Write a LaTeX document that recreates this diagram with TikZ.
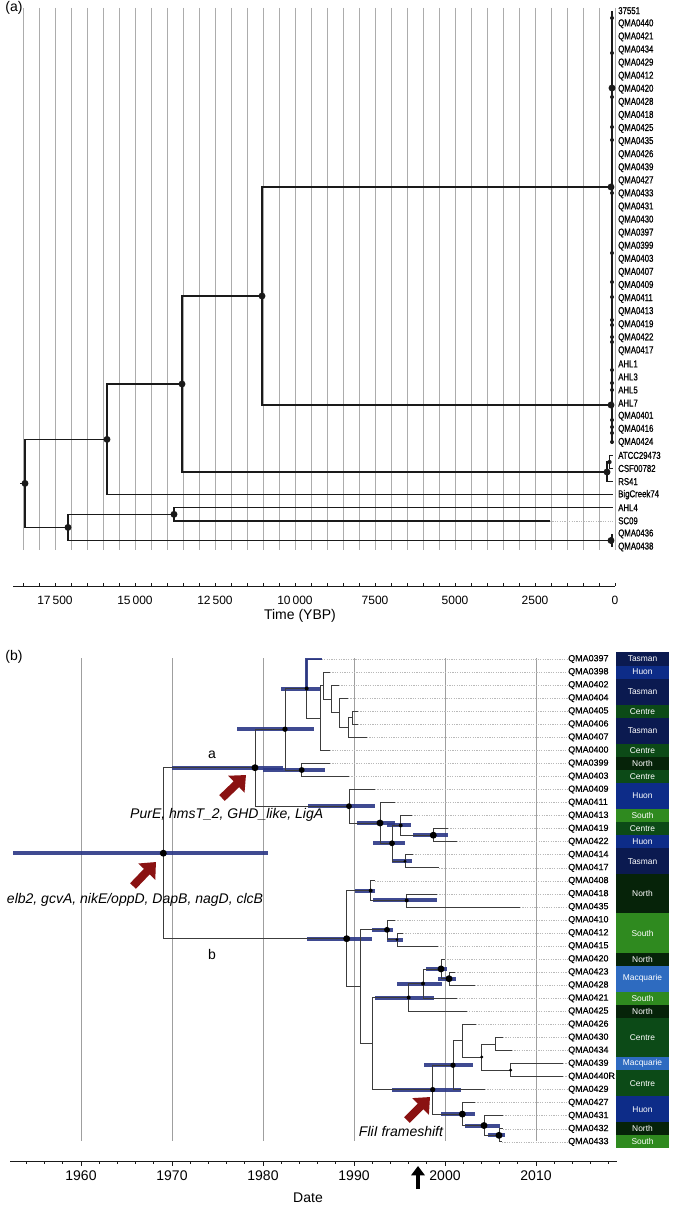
\documentclass[tikz,border=0pt]{standalone}
\usepackage{fontspec}
\setmainfont{Liberation Sans}
\newfontfamily\condfont[FakeStretch=0.78, FakeBold=0.7]{Liberation Sans}
\newfontfamily\tipbfam[FakeBold=0.6]{Liberation Sans}
\usetikzlibrary{arrows.meta, calc}
\definecolor{treeink}{HTML}{1A1A1A}
\definecolor{hpdblue}{HTML}{2B3786}
\definecolor{arrred}{HTML}{8A1212}
\definecolor{cTasman}{HTML}{0B1A50}
\definecolor{cHuon}{HTML}{0D2C88}
\definecolor{cCentre}{HTML}{0C4A17}
\definecolor{cNorth}{HTML}{062309}
\definecolor{cSouth}{HTML}{2F8A1F}
\definecolor{cMacq}{HTML}{2E6BC0}
\newcommand{\tipafont}{\condfont\fontsize{7.5}{8}\selectfont}
\newcommand{\tipbfont}{\tipbfam\fontsize{6.7}{7.5}\selectfont}
\newcommand{\barfont}{\fontsize{6.3}{7}\selectfont}
\newcommand{\notefont}{\fontsize{10.5}{12}\selectfont}
\newcommand{\axafont}{\fontsize{9}{10}\selectfont}
\newcommand{\axbfont}{\fontsize{10.5}{12}\selectfont}

\begin{document}
\begin{tikzpicture}[
  x=0.75pt, y=-0.75pt,
  line join=miter,
  vgrid/.style = {draw=gray!65, line width=0.55pt},
  bra/.style   = {draw=treeink, line width=1.1pt},
  brb/.style   = {draw=treeink!85, line width=0.6pt},
  hpd/.style   = {draw=hpdblue, line width=3pt, opacity=0.9},
  tipline/.style = {draw=gray!55, line width=0.4pt, dash pattern=on 0.9pt off 0.9pt},
  laba/.style  = {font=\tipafont, anchor=west, inner sep=0pt},
  labb/.style  = {font=\tipbfont, anchor=west, inner sep=0pt},
  bartxt/.style = {font=\barfont, text=white, inner sep=0pt},
  note/.style  = {font=\notefont, inner sep=0pt},
  axlab/.style = {font=\axafont, inner sep=0pt},
  axline/.style = {draw=treeink, line width=0.6pt},
  mut/.style   = {draw=arrred, line width=6pt, -{Triangle[length=10pt, width=17pt]}}
]
\useasboundingbox (0,0) rectangle (672,1206);
\fill[white] (0,0) rectangle (672,1206);

% ================= (a) =================
\node[axlab, font=\axbfont] (pa) at (14,8) {(a)};
\foreach \k in {0,...,37}
  \draw[vgrid] ({615-16*\k},8) -- ({615-16*\k},550);

% nodes of the time tree
\coordinate (ra0)  at (20,483.4);
\coordinate (ra)   at (25,483.4);
\coordinate (a1)   at (107,439.4);
\coordinate (a2)   at (182,384);
\coordinate (a3)   at (262,296);
\coordinate (a4)   at (68,527.4);
\coordinate (a5)   at (174,514.3);
\coordinate (ctop) at (611,187);
\coordinate (cahl) at (611,405);
\coordinate (ccsf) at (607,472);
\coordinate (ccl)  at (609.5,462);
\coordinate (cq)   at (611,540.5);
\coordinate (tatcc) at (613,455.4);
\coordinate (tcsf)  at (613,468.5);
\coordinate (trs)   at (613,481.6);
\coordinate (tbig)  at (613,494.7);
\coordinate (tahl4) at (613,507.7);
\coordinate (tsc)   at (550,520.8);
\coordinate (tsc2)  at (613,520.8);
\coordinate (cs1) at (612,11);
\coordinate (cs2) at (612,444);
\coordinate (cs3) at (612,534);
\coordinate (cs4) at (612,547);

% branches
\draw[bra] (ra0) -- (ra);
\draw[bra] (ra) |- (a1);
\draw[bra] (ra) |- (a4);
\draw[bra] (a1) |- (a2);
\draw[bra] (a1) |- (tbig);
\draw[bra] (a2) |- (a3);
\draw[bra] (a2) |- (ccsf);
\draw[bra] (a3) |- (ctop);
\draw[bra] (a3) |- (cahl);
\draw[bra] (ccsf) |- (ccl);
\draw[bra] (ccsf) |- (trs);
\draw[bra] (ccl) |- (tatcc);
\draw[bra] (ccl) |- (tcsf);
\draw[bra] (a4) |- (a5);
\draw[bra] (a4) |- (cq);
\draw[bra] (a5) |- (tahl4);
\draw[bra] (a5) |- (tsc);
\draw[tipline] (tsc) -- (tsc2);
\draw[bra, line width=1.6pt] (cs1) -- (cs2);
\draw[bra, line width=1.6pt] (cs3) -- (cs4);

\foreach \n in {ra,a1,a2,a3,a4,a5,ctop,cahl,ccsf,cq}
  \fill[treeink] (\n) circle[radius=2.6pt];
\fill[treeink] (ccl) circle[radius=1.6pt];
\fill[treeink] (612,88) circle[radius=2.6pt];
\foreach \y in {18,53,97,127,140,193,253,282,297,320,325,337,342,370,383,390,420,427,433,442}
  \fill[treeink] (612,\y) circle[radius=1.5pt];

\foreach \lab [count=\i] in {37551,QMA0440,QMA0421,QMA0434,QMA0429,QMA0412,QMA0420,
    QMA0428,QMA0418,QMA0425,QMA0435,QMA0426,QMA0439,QMA0427,QMA0433,QMA0431,QMA0430,
    QMA0397,QMA0399,QMA0403,QMA0407,QMA0409,QMA0411,QMA0413,QMA0419,QMA0422,QMA0417,
    AHL1,AHL3,AHL5,AHL7,QMA0401,QMA0416,QMA0424,ATCC29473,CSF00782,RS41,BigCreek74,
    AHL4,SC09,QMA0436,QMA0438}
  \node[laba] (la\i) at (618,{10.7+13.08*(\i-1)}) {\lab};

% time axis
\coordinate (axa0) at (13,586);
\coordinate (axa1) at (615,586);
\draw[axline] (axa0) -- (axa1);
\foreach \k in {0,...,37}
  \draw[axline] ({615-16*\k},586) -- ++(0,-3);
\foreach \t [count=\j from 0] in {0,2500,5000,7500,{10\,000},{12\,500},{15\,000},{17\,500}}
  \node[axlab] (tka\j) at ({615-80*\j},600) {\t};
\node[axlab, font=\axbfont] (ttla) at (300,616) {Time (YBP)};

% ================= (b) =================
\node[axlab, font=\axbfont] (pb) at (14,657) {(b)};
\foreach \yr in {1960,1970,...,2010}
  \draw[vgrid, draw=gray!75] ({263+9.1*(\yr-1980)},658) -- ({263+9.1*(\yr-1980)},1141);

% internal nodes
\coordinate (rootb) at (163.3,853.2);
\coordinate (na)  at (255,767.7);
\coordinate (na1) at (285,729.2);
\coordinate (nA)  at (306.7,688.5);
\coordinate (nB)  at (320,718);
\coordinate (nC)  at (323,685.5);
\coordinate (nD)  at (331.7,699);
\coordinate (nE)  at (339,712.8);
\coordinate (nF)  at (348,727.5);
\coordinate (nG)  at (352.7,717.7);
\coordinate (nH)  at (301.7,770);
\coordinate (na2) at (349,806.2);
\coordinate (nI)  at (380,823);
\coordinate (nJ)  at (392,843.3);
\coordinate (nK)  at (400.7,825.4);
\coordinate (nM)  at (433.3,835.2);
\coordinate (nL)  at (405,861.3);
\coordinate (nb)  at (346.7,938.7);
\coordinate (nQ)  at (370.7,890.6);
\coordinate (nR)  at (406.7,900.4);
\coordinate (nP)  at (360,986.7);
\coordinate (nS)  at (387,929.8);
\coordinate (nT)  at (397,939.6);
\coordinate (nU)  at (372.7,1043.6);
\coordinate (nV)  at (408.7,997.5);
\coordinate (nW)  at (423,983.6);
\coordinate (nX)  at (441,968.9);
\coordinate (nY)  at (449,978.7);
\coordinate (nZ)  at (432.7,1089.6);
\coordinate (nAA) at (453,1065.2);
\coordinate (nBB) at (462.3,1040.7);
\coordinate (nDD) at (481.7,1057);
\coordinate (nEE) at (495,1044);
\coordinate (nFF) at (510.7,1070.1);
\coordinate (nGG) at (462.3,1114.1);
\coordinate (nHH) at (484,1125.5);
\coordinate (nII) at (499,1135.3);

% 95% HPD bars
\foreach \n/\xa/\xb in {rootb/13/268, na/172/283, na1/237/314, nA/281/321, nH/263/325,
    na2/308/375, nI/357/395, nJ/373/405, nK/387/411, nM/413/448, nL/392/412,
    nb/307/372, nQ/355/375, nR/373/437, nS/372/393, nT/387/403, nX/426/447,
    nY/438/456, nW/397/442, nV/375/434, nZ/392/461, nAA/424/473, nGG/441/475,
    nHH/465/500, nII/488/505}
  \draw[hpd] (\xa,0 |- \n) -- (\xb,0 |- \n);

% branches between internal nodes
\foreach \p/\c in {rootb/na, rootb/nb, na/na1, na/na2, na1/nA, na1/nH, nA/nB, nB/nC,
    nC/nD, nD/nE, nE/nF, nF/nG, na2/nI, nI/nJ, nJ/nK, nJ/nL, nK/nM, nb/nQ, nb/nP,
    nQ/nR, nP/nS, nP/nU, nS/nT, nU/nV, nU/nZ, nV/nW, nW/nX, nX/nY, nZ/nAA, nZ/nGG,
    nAA/nBB, nBB/nDD, nDD/nEE, nDD/nFF, nGG/nHH, nHH/nII}
  \draw[brb] (\p) |- (\c);

% tips, dotted leaders and labels
\foreach \i/\lab/\xe/\p in {1/QMA0397/321.7/nA, 2/QMA0398/330/nC, 3/QMA0402/339/nD,
    4/QMA0404/348/nE, 5/QMA0405/358/nG, 6/QMA0406/358/nG, 7/QMA0407/367/nF,
    8/QMA0400/330/nB, 9/QMA0399/330/nH, 10/QMA0403/349/nH, 11/QMA0409/375/na2,
    12/QMA0411/395/nI, 13/QMA0413/412/nK, 14/QMA0419/448/nM, 15/QMA0422/457/nM,
    16/QMA0414/413/nL, 17/QMA0417/439/nL, 18/QMA0408/375/nQ, 19/QMA0418/437/nR,
    20/QMA0435/520/nR, 21/QMA0410/395/nS, 22/QMA0412/403/nT, 23/QMA0415/438/nT,
    24/QMA0420/445/nX, 25/QMA0423/455/nY, 26/QMA0428/475/nY, 27/QMA0421/457/nW,
    28/QMA0425/466.7/nV, 29/QMA0426/476/nBB, 30/QMA0430/503/nEE, 31/QMA0434/512/nEE,
    32/QMA0439/563/nFF, 33/QMA0440R/563/nFF, 34/QMA0429/485/nAA, 35/QMA0427/475/nGG,
    36/QMA0431/503/nHH, 37/QMA0432/503/nII, 38/QMA0433/502/nII} {
  \coordinate (tb\i) at (\xe,{659+13.05*(\i-1)});
  \node[labb] (lb\i) at (568,{659+13.05*(\i-1)}) {\lab};
  \draw[tipline] (tb\i) -- (lb\i.west);
  \draw[brb] (\p) |- (tb\i);
}
\draw[hpd, line width=2.2pt] (nA) |- (tb1);

% node dots
\foreach \n/\r in {rootb/2.6, na/2.6, na1/2, nA/1.5, nH/2.2, na2/2.2, nI/2.6, nJ/2.2,
    nK/1.5, nM/2.6, nL/1.2, nb/2.6, nQ/1.5, nR/1.5, nS/2.2, nT/1.2, nX/2.6, nY/2.6,
    nW/1.5, nV/1.5, nZ/2, nAA/2, nDD/1.2, nFF/1.2, nGG/2.6, nHH/2.6, nII/2.6}
  \fill[black] (\n) circle[radius=\r pt];

% clade labels and mutations
\node[note] (lca) at (212,755) {a};
\node[note] (lcb) at (212,954) {b};
\node[note] (mtxa) at (226.7,815) {\itshape PurE, hmsT\_2, GHD\_like, LigA};
\node[note] (mtxr) at (135,900) {\itshape elb2, gcvA, nikE/oppD, DapB, nagD, clcB};
\node[note] (mtxf) at (401,1131) {\itshape FliI frameshift};
\coordinate (m1t) at (133,886);   \coordinate (m1h) at (156,862);
\coordinate (m2t) at (222,798);   \coordinate (m2h) at (246,775);
\coordinate (m3t) at (407,1120);  \coordinate (m3h) at (430,1097);
\draw[mut] (m1t) -- (m1h);
\draw[mut] (m2t) -- (m2h);
\draw[mut] (m3t) -- (m3h);

% region colour bar
\foreach \a/\b/\nm/\col in {1/1/Tasman/cTasman, 2/2/Huon/cHuon, 3/4/Tasman/cTasman,
    5/5/Centre/cCentre, 6/7/Tasman/cTasman, 8/8/Centre/cCentre, 9/9/North/cNorth,
    10/10/Centre/cCentre, 11/12/Huon/cHuon, 13/13/South/cSouth, 14/14/Centre/cCentre,
    15/15/Huon/cHuon, 16/17/Tasman/cTasman, 18/20/North/cNorth, 21/23/South/cSouth,
    24/24/North/cNorth, 25/26/Macquarie/cMacq, 27/27/South/cSouth, 28/28/North/cNorth,
    29/31/Centre/cCentre, 32/32/Macquarie/cMacq, 33/34/Centre/cCentre,
    35/36/Huon/cHuon, 37/37/North/cNorth, 38/38/South/cSouth} {
  \fill[\col] (616,{659+13.05*(\a-1)-6.53}) rectangle (669,{659+13.05*(\b-1)+6.53});
  \node[bartxt] (rg\a) at (642.5,{659+13.05*((\a+\b)/2-1)}) {\nm};
}

% date axis
\coordinate (axb0) at (10,1161);
\coordinate (axb1) at (617,1161);
\draw[axline] (axb0) -- (axb1);
\foreach \yr in {1954,1956,...,2018}
  \draw[axline] ({263+9.1*(\yr-1980)},1161) -- ++(0,3);
\foreach \yr in {1960,1970,...,2010} {
  \draw[axline] ({263+9.1*(\yr-1980)},1161) -- ++(0,5);
  \node[axlab, font=\axbfont] (yr\yr) at ({263+9.1*(\yr-1980)},1176) {\yr};
}
\node[axlab, font=\axbfont] (ttlb) at (308,1198) {Date};
\coordinate (up0) at (418,1189);
\coordinate (up1) at (418,1166);
\draw[draw=black, line width=3pt, -{Triangle[length=7pt, width=10pt]}] (up0) -- (up1);

\end{tikzpicture}
\end{document}
